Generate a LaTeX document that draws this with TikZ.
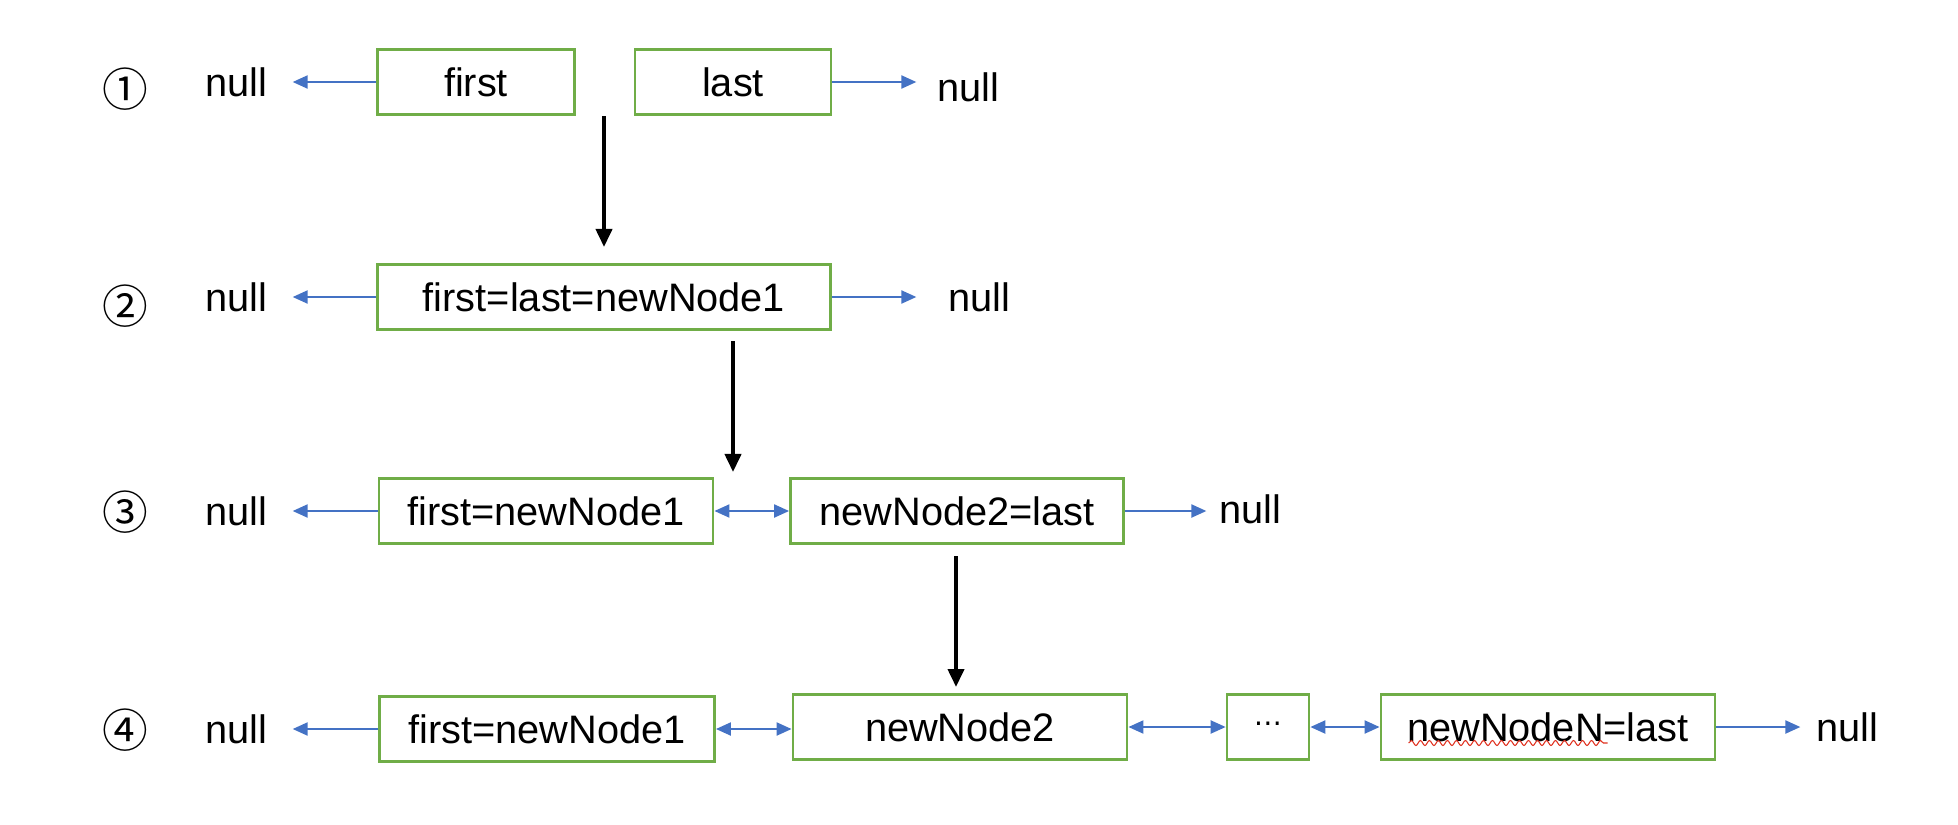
\documentclass[tikz,border=0pt]{standalone}
\usepackage{fontspec}
\setmainfont{Liberation Sans}
\newfontfamily\circfont{DejaVu Sans}
\newfontfamily\cjkfont{Noto Sans CJK SC}
\usetikzlibrary{arrows.meta,positioning,calc,decorations.pathmorphing}
\definecolor{BoxGreen}{HTML}{70AD47}
\definecolor{LinkBlue}{HTML}{4472C4}
\definecolor{Squiggle}{HTML}{E0301E}

\begin{document}
\begin{tikzpicture}[x=0.01cm,y=-0.01cm,
  cell/.style={draw=BoxGreen,line width=0.75pt,fill=white,minimum height=0.65cm,inner sep=0pt,font=\fontsize{11.3}{13}\selectfont},
  nul/.style={inner sep=0pt,font=\fontsize{11.3}{13}\selectfont},
  stepno/.style={inner sep=0pt,font=\cjkfont\fontsize{13}{15}\selectfont},
  link/.style={-{Triangle[length=1.5mm,width=1.3mm]},line width=0.6pt,draw=LinkBlue},
  dlink/.style={{Triangle[length=1.5mm,width=1.3mm]}-{Triangle[length=1.5mm,width=1.3mm]},line width=0.6pt,draw=LinkBlue},
  stepline/.style={-{Triangle[length=1.8mm,width=1.6mm]},line width=1.1pt,draw=black}
]
  \useasboundingbox (0,0) rectangle (1958,824);

  % step 1
  \node[stepno] (k1) at (125,89) {①};
  \node[nul] (nl1) at (236,82) {null};
  \node[cell,minimum width=1.97cm] (first1) at (476,82) {first};
  \node[cell,minimum width=1.96cm] (last1) at (733,82) {last};
  \node[nul] (nr1) at (968,87) {null};
  \draw[link,shorten >=0.25cm] (first1) -- (nl1);
  \draw[link,shorten >=0.2cm] (last1) -- (last1 -| nr1.west);

  % step 2
  \node[stepno] (k2) at (125,306) {②};
  \node[nul] (nl2) at (236,297) {null};
  \node[cell,minimum width=4.53cm] (both2) at (604,297) {first=last=newNode1};
  \node[nul] (nr2) at (979,297) {null};
  \draw[link,shorten >=0.25cm] (both2) -- (nl2);
  \draw[link,shorten >=0.31cm] (both2) -- (nr2);

  % step 3
  \node[stepno] (k3) at (125,512) {③};
  \node[nul] (nl3) at (236,511) {null};
  \node[cell,minimum width=3.34cm] (first3) at (546,511) {first=newNode1};
  \node[cell,minimum width=3.33cm] (last3) at (957,511) {newNode2=last};
  \node[nul] (nr3) at (1250,509) {null};
  \draw[link,shorten >=0.25cm] (first3) -- (nl3);
  \draw[dlink] (first3) -- (last3);
  \draw[link,shorten >=0.12cm] (last3) -- (last3 -| nr3.west);

  % step 4
  \node[stepno] (k4) at (125,730) {④};
  \node[nul] (nl4) at (236,729) {null};
  \node[cell,minimum width=3.35cm] (first4) at (547,729) {first=newNode1};
  \node[cell,minimum width=3.34cm] (mid4) at (960,727) {newNode2};
  \node[cell,minimum width=0.82cm] (dots4) at (1268,727) {\circfont\fontsize{8}{10}\selectfont ⋯};
  \node[cell,minimum width=3.34cm] (last4) at (1548,727) {newNodeN=last};
  \node[nul] (nr4) at (1847,727) {null};
  \draw[link,shorten >=0.25cm] (first4) -- (nl4);
  \draw[dlink] (first4.east) -- (mid4.west |- first4.east);
  \draw[dlink] (mid4) -- (dots4);
  \draw[dlink] (dots4) -- (last4);
  \draw[link,shorten >=0.15cm] (last4) -- (nr4);
  \draw[Squiggle,line width=0.3pt,decorate,decoration={snake,amplitude=0.25mm,segment length=0.9mm}]
    ($(last4.west)+(29,16)$) -- ($(last4.west)+(228,16)$);

  % transitions
  \coordinate (t1a) at (604,116);
  \coordinate (t1b) at (604,247);
  \coordinate (t2a) at (733,341);
  \coordinate (t2b) at (733,472);
  \coordinate (t3a) at (956,556);
  \coordinate (t3b) at (956,687);
  \draw[stepline] (t1a) -- (t1b);
  \draw[stepline] (t2a) -- (t2b);
  \draw[stepline] (t3a) -- (t3b);
\end{tikzpicture}
\end{document}
